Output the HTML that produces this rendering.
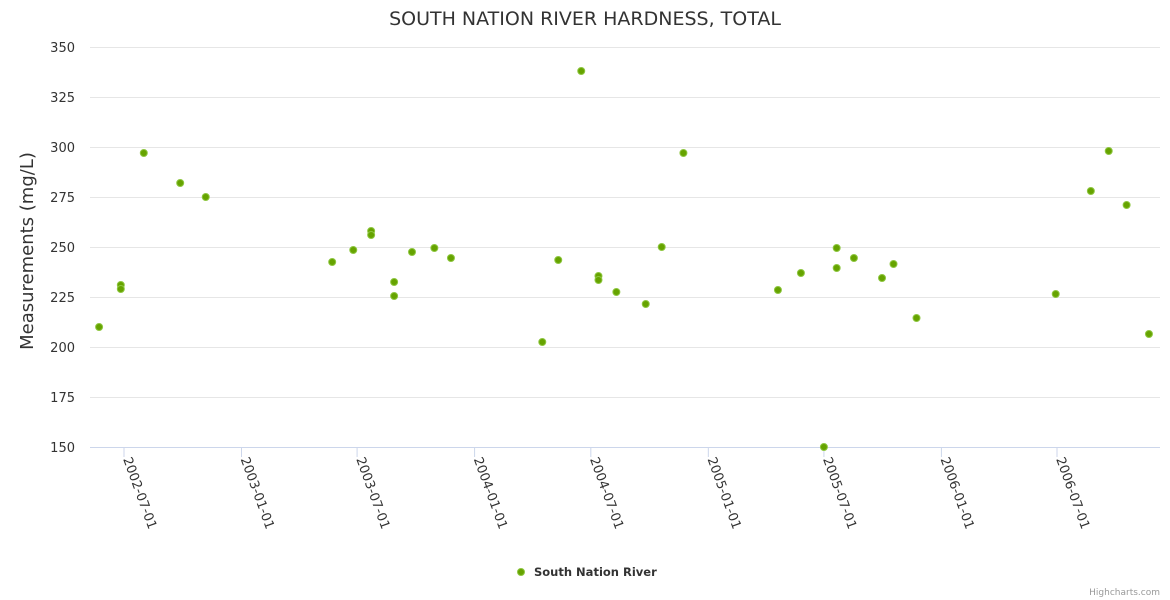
<!DOCTYPE html>
<html><head><meta charset="utf-8"><style>
body{margin:0;background:#fff;font-family:"DejaVu Sans","Liberation Sans",sans-serif}
svg{display:block;font-family:"DejaVu Sans","Liberation Sans",sans-serif}
</style></head><body>
<svg id="chart" width="1170" height="600">
<text x="585" y="25" text-anchor="middle" font-size="19" fill="#333">SOUTH NATION RIVER HARDNESS, TOTAL</text>
<text transform="translate(33,251) rotate(-90)" text-anchor="middle" font-size="18" fill="#333">Measurements (mg/L)</text>
<g id="grid"></g><g id="xaxis"></g><g id="points"></g>
<g>
<circle cx="521" cy="572" r="3.5" fill="#66a300" stroke="#8dc63f" stroke-width="1"/>
<text x="534" y="576" font-size="11.5" font-weight="bold" fill="#333">South Nation River</text>
</g>
<text x="1160" y="595" text-anchor="end" font-size="9" fill="#999">Highcharts.com</text>
</svg>
<script>
const dates=["2002-05-23","2002-06-26","2002-06-26","2002-08-01","2002-09-27","2002-11-06","2003-05-23","2003-06-25","2003-07-23","2003-07-23","2003-08-28","2003-08-28","2003-09-25","2003-10-30","2003-11-25","2004-04-16","2004-05-11","2004-06-16","2004-07-13","2004-07-13","2004-08-10","2004-09-25","2004-10-20","2004-11-23","2005-04-20","2005-05-26","2005-07-01","2005-07-21","2005-07-21","2005-08-17","2005-09-30","2005-10-18","2005-11-23","2006-06-29","2006-08-23","2006-09-20","2006-10-18","2006-11-22"];
const values=[210,231,229,297,282,275,242.5,248.5,258,256,232.5,225.5,247.5,249.5,244.5,202.5,243.5,338,235.5,233.5,227.5,221.5,250,297,228.5,237,150,249.5,239.5,244.5,234.5,241.5,214.5,226.5,278,298,271,206.5];
const yTicks=[150,175,200,225,250,275,300,325,350];
const xTicks=["2002-07-01","2003-01-01","2003-07-01","2004-01-01","2004-07-01","2005-01-01","2005-07-01","2006-01-01","2006-07-01"];
const NS="http://www.w3.org/2000/svg";
const t0=Date.parse("2002-07-01"),t1=Date.parse("2006-07-01");
function xs(d){return 124+(Date.parse(d)-t0)/(t1-t0)*933;}
function ys(v){return 447-(v-150)*2;}
function mk(tag,attrs,parent){const e=document.createElementNS(NS,tag);for(const k in attrs)e.setAttribute(k,attrs[k]);parent.appendChild(e);return e;}
const grid=document.getElementById('grid'),xa=document.getElementById('xaxis'),pts=document.getElementById('points');
yTicks.forEach(v=>{
  const l=mk('line',{x1:90,x2:1160,y1:ys(v)+0.5,y2:ys(v)+0.5,stroke:v===150?'#ccd6eb':'#e6e6e6'},grid);
  
  
  const t=mk('text',{x:75,y:ys(v)+5,'text-anchor':'end','font-size':13,fill:'#333'},grid);
  t.textContent=v;
  
  
});
xTicks.forEach(d=>{
  const x=xs(d);
  const l=mk('line',{x1:x,x2:x,y1:447,y2:457,stroke:'#ccd6eb'},xa);
  
  
  const t=mk('text',{transform:`translate(${x-1},459) rotate(70)`,'font-size':13,fill:'#333'},xa);
  t.textContent=d;
  
  
});
dates.forEach((d,i)=>{
  const c=mk('circle',{cx:xs(d),cy:ys(values[i]),r:3.5,fill:'#66a300',stroke:'#8dc63f','stroke-width':1},pts);
  
  
});
</script>
</body></html>
